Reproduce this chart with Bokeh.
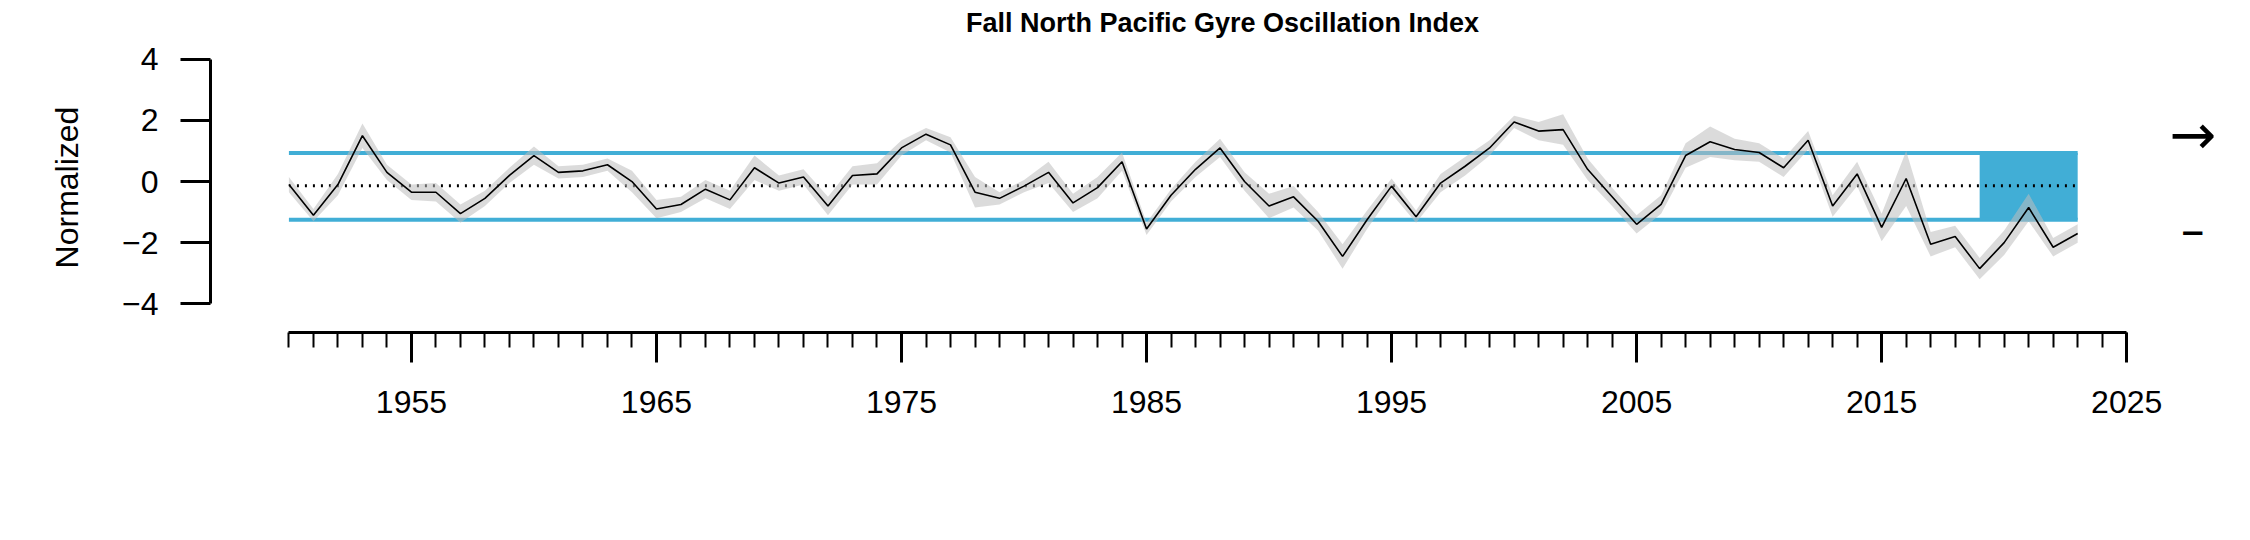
from bokeh.plotting import figure
from bokeh.models import LinearAxis, FixedTicker, Range1d
from bokeh.core.properties import value
from bokeh.embed import file_html
from bokeh.resources import INLINE

# fall NPGO index, normalized
years = list(range(1950, 2024))
npgo = [-0.1, -1.1, -0.1, 1.5, 0.3, -0.35, -0.35, -1.05, -0.55, 0.2,
        0.85, 0.3, 0.35, 0.55, 0.0, -0.9, -0.75, -0.25, -0.6, 0.45,
        -0.05, 0.15, -0.8, 0.2, 0.25, 1.1, 1.55, 1.2, -0.35, -0.55,
        -0.15, 0.3, -0.7, -0.2, 0.65, -1.55, -0.45, 0.4, 1.1, 0.0,
        -0.8, -0.5, -1.3, -2.45, -1.25, -0.15, -1.15, -0.05, 0.5, 1.1,
        1.95, 1.65, 1.7, 0.4, -0.5, -1.4, -0.75, 0.85, 1.3, 1.05,
        0.95, 0.45, 1.35, -0.8, 0.25, -1.5, 0.1, -2.05, -1.8, -2.85,
        -2.0, -0.85, -2.15, -1.7]
# uncertainty half-width
err = [.25, .2, .35, .4, .25, .25, .3, .3, .25, .25,
       .3, .2, .2, .2, .35, .3, .25, .3, .3, .4,
       .25, .25, .3, .3, .35, .25, .2, .25, .5, .2,
       .2, .35, .3, .35, .3, .2, .2, .25, .3, .3,
       .4, .35, .3, .4, .3, .25, .2, .3, .3, .25,
       .2, .3, .5, .35, .3, .3, .3, .4, .5, .35,
       .3, .3, .3, .35, .4, .45, .9, .4, .35, .35,
       .4, .45, .3, .3]
mean_val = -0.14
sd_upper = 0.93
sd_lower = -1.25
recent_start, recent_end = 2019, 2023
x_ticks = [1955, 1965, 1975, 1985, 1995, 2005, 2015, 2025]
y_ticks = [-4, -2, 0, 2, 4]

upper = [v + e for v, e in zip(npgo, err)]
lower = [v - e for v, e in zip(npgo, err)]

FONT = "Liberation Sans"
BLUE = "#41AED6"

p = figure(width=2234, height=452, output_backend="svg", toolbar_location=None,
           x_range=Range1d(1946.8, 2029.4), y_range=Range1d(-4.94, 4.55),
           x_axis_location=None, y_axis_location=None,
           min_border_left=210, min_border_top=37, min_border_right=0,
           min_border_bottom=120)
p.outline_line_color = None
p.grid.visible = False
p.title.text = "Fall North Pacific Gyre Oscillation Index"
p.title.align = "center"
p.title.text_font = FONT
p.title.text_font_size = "27px"
p.title.text_font_style = "bold"
p.title.text_color = "black"

p.quad(left=recent_start, right=recent_end, bottom=sd_lower, top=sd_upper,
       fill_color=BLUE, line_color=None)
p.segment(x0=years[0], x1=years[-1], y0=sd_upper, y1=sd_upper, line_color=BLUE, line_width=4)
p.segment(x0=years[0], x1=years[-1], y0=sd_lower, y1=sd_lower, line_color=BLUE, line_width=4)
p.segment(x0=years[0], x1=years[-1], y0=mean_val, y1=mean_val, line_color="black",
          line_width=3, line_dash="2 6")
p.varea(x=years, y1=lower, y2=upper, fill_color="#BEBEBE", fill_alpha=0.55)
p.line(years, npgo, line_color="black", line_width=1.6)

p.text(x=[2027.7], y=[1.55], text=["→"], text_font=value("DejaVu Sans"), text_font_size="56px",
       text_align="center", text_baseline="middle", text_color="black")
p.text(x=[2027.7], y=[-1.6], text=["–"], text_font=value("DejaVu Sans"), text_font_size="48px",
       text_align="center", text_baseline="middle", text_color="black")

yax = LinearAxis(bounds=(-4, 4), ticker=FixedTicker(ticks=y_ticks))
yax.axis_label = "Normalized"
yax.axis_label_text_font = FONT
yax.axis_label_text_font_size = "32px"
yax.axis_label_text_font_style = "normal"
yax.axis_label_text_color = "black"
yax.axis_label_standoff = 34
yax.major_label_text_font = FONT
yax.major_label_text_font_size = "32px"
yax.major_label_text_color = "black"
yax.major_label_standoff = 22
yax.axis_line_width = 3
yax.major_tick_line_width = 3
yax.major_tick_out = 30
yax.major_tick_in = 0
yax.minor_tick_line_color = None
p.add_layout(yax, "left")

xax = LinearAxis(bounds=(1950, 2025),
                 ticker=FixedTicker(ticks=x_ticks, minor_ticks=list(range(1950, 2026))))
xax.major_label_text_font = FONT
xax.major_label_text_font_size = "32px"
xax.major_label_text_color = "black"
xax.major_label_standoff = 28
xax.axis_line_width = 3
xax.major_tick_line_width = 3
xax.major_tick_out = 30
xax.major_tick_in = 0
xax.minor_tick_line_width = 2
xax.minor_tick_out = 15
xax.minor_tick_in = 0
p.add_layout(xax, "below")

open("out.html", "w").write(file_html(p, INLINE))
